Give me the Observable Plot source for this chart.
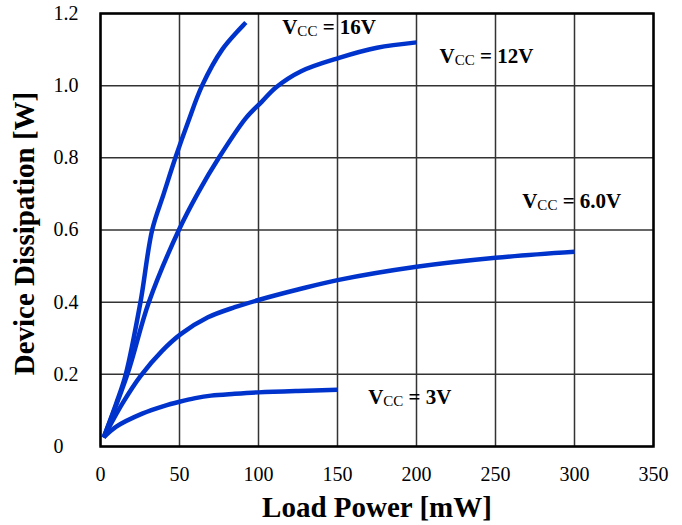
<!DOCTYPE html>
<html>
<head>
<meta charset="utf-8">
<script src="https://cdn.jsdelivr.net/npm/d3@7"></script>
<script src="https://cdn.jsdelivr.net/npm/@observablehq/plot@0.6"></script>
<style>
  html, body { margin: 0; padding: 0; background: #fff; }
  #chart svg { display: block; }
</style>
</head>
<body>
<div id="chart"></div>
<script>
// Series: load power (mW) and device dissipation (W)
const v16x = [2, 10, 16, 25.3, 32.7, 40, 47.4, 55.5, 64.3, 77, 92];
const v16y = [0.025, 0.12, 0.2, 0.40, 0.60, 0.70, 0.80, 0.90, 1.0, 1.10, 1.175];
const v12x = [2, 17, 30.6, 49.6, 62, 74.9, 92, 102, 111, 127, 151, 175, 200];
const v12y = [0.025, 0.2, 0.4, 0.60, 0.705, 0.80, 0.91, 0.955, 0.995, 1.04, 1.077, 1.105, 1.12];
const v6x = [2, 14, 25.3, 39, 51, 68, 85, 100, 125, 150, 200, 250, 300];
const v6y = [0.025, 0.12, 0.195, 0.265, 0.312, 0.358, 0.386, 0.406, 0.435, 0.461, 0.498, 0.523, 0.54];
const v3x = [2, 10, 26.4, 40, 50, 60, 70, 85, 100, 125, 150];
const v3y = [0.025, 0.055, 0.091, 0.112, 0.124, 0.134, 0.141, 0.146, 0.150, 0.154, 0.157];

const seriesNames = ["16V", "12V", "6.0V", "3V"];
const labelText = ["VCC = 16V", "VCC = 12V", "VCC = 6.0V", "VCC = 3V"];
const labelX = [115, 214.6, 266.9, 169.4];
const labelY = [1.163, 1.082, 0.679, 0.137];

const xTicks = [0, 50, 100, 150, 200, 250, 300, 350];
const yTicks = [0, 0.2, 0.4, 0.6, 0.8, 1.0, 1.2];
const xTitle = "Load Power [mW]";
const yTitle = "Device Dissipation [W]";

const seriesX = [v16x, v12x, v6x, v3x];
const seriesY = [v16y, v12y, v6y, v3y];
const rows = seriesNames.flatMap((s, k) =>
  seriesX[k].map((x, i) => ({series: s, x, y: seriesY[k][i]})));
const labels = labelText.map((t, i) => ({t, x: labelX[i], y: labelY[i]}));

const serif = "'Liberation Serif', 'Times New Roman', serif";

const chart = Plot.plot({
  width: 682,
  height: 525,
  marginLeft: 100,
  marginRight: 29,
  marginTop: 13,
  marginBottom: 79,
  style: {fontFamily: serif, background: "#fff", color: "#000"},
  x: {domain: [0, 350]},
  y: {domain: [0, 1.2]},
  marks: [
    Plot.gridX(xTicks, {stroke: "#333", strokeOpacity: 1, strokeWidth: 1.5}),
    Plot.gridY(yTicks, {stroke: "#333", strokeOpacity: 1, strokeWidth: 1.5}),
    Plot.axisX(xTicks, {tickSize: 0, tickPadding: 20, fontSize: 20, label: null, tickFormat: d => String(d)}),
    Plot.axisY(yTicks, {tickSize: 0, tickPadding: 47, textAnchor: "start", fontSize: 20, label: null,
      tickFormat: d => d === 0 ? "0" : d.toFixed(1)}),
    Plot.line(rows, {x: "x", y: "y", z: "series", stroke: "#0033cc", strokeWidth: 4.5,
      curve: "catmull-rom", strokeLinecap: "butt"}),
    Plot.frame({stroke: "#000", strokeWidth: 2.5}),
    Plot.text(labels, {x: "x", y: "y", text: "t", textAnchor: "start", fontSize: 21,
      fontWeight: "bold", fill: "#000", className: "vcc-label"}),
    Plot.text([xTitle], {frameAnchor: "bottom", lineAnchor: "middle", textAnchor: "middle", dy: 61,
      text: d => d, fontSize: 29, fontWeight: "bold", fill: "#000"}),
    Plot.text([yTitle], {frameAnchor: "left", lineAnchor: "middle", textAnchor: "middle", dx: -76, dy: 3.5,
      rotate: -90, text: d => d, fontSize: 29, fontWeight: "bold", fill: "#000"})
  ]
});

// Render "VCC" with subscript CC
d3.select(chart).selectAll(".vcc-label text").each(function() {
  const txt = this.textContent;
  const rest = txt.slice(3);
  const sel = d3.select(this);
  sel.text("");
  sel.append("tspan").text("V");
  sel.append("tspan").attr("font-size", 15).attr("font-weight", "normal").attr("dy", 2).text("CC");
  sel.append("tspan").attr("dy", -2).text(rest);
});

document.getElementById("chart").appendChild(chart);
</script>
</body>
</html>
